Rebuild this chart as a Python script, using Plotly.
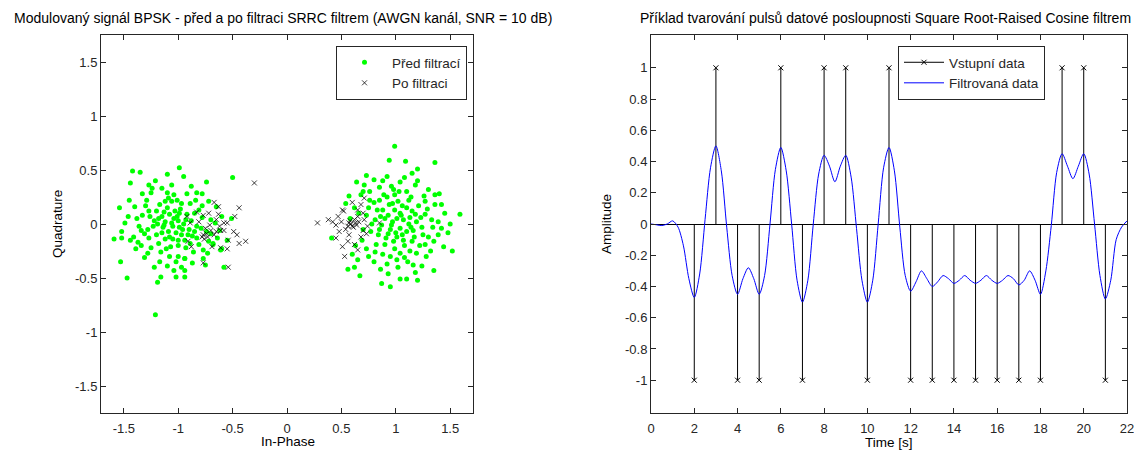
import plotly.graph_objects as go

# --- left chart: BPSK constellation (I, Q) ---
pred_left = [(-0.99,0.52),(-1.42,0.49),(-1.35,0.48),(-1.10,0.46),(-0.95,0.44),(-0.50,0.43),(-1.44,0.38),(-0.74,0.39),
    (-1.27,0.36),(-1.21,0.40),(-1.33,0.28),(-1.25,0.29),(-1.10,0.29),(-1.04,0.27),(-0.92,0.28),(-0.83,0.29),(-0.78,0.28),
    (-1.29,0.22),(-1.06,0.21),(-1.01,0.22),(-1.12,0.21),(-1.54,0.15),(-1.30,0.17),(-1.20,0.12),(-1.10,0.15),(-0.98,0.14),
    (-0.78,0.17),(-0.65,0.16),(-1.49,0.01),(-1.33,0.08),(-1.26,0.07),(-1.15,0.07),(-1.08,0.09),(-1.01,0.07),(-0.92,0.09),
    (-0.85,0.10),(-0.78,0.06),(-0.70,0.04),(-0.60,0.07),(-1.52,-0.07),(-1.59,-0.14),(-1.52,-0.13),(-1.41,-0.12),(-1.34,-0.06),
    (-1.28,-0.05),(-1.23,-0.02),(-1.19,0.00),(-1.14,-0.03),(-1.09,-0.07),(-1.06,0.01),(-1.02,-0.08),(-0.96,-0.05),(-0.91,-0.10),
    (-0.85,-0.07),(-0.79,-0.04),(-0.74,-0.07),(-0.62,-0.06),(-1.44,-0.15),(-1.39,-0.23),(-1.34,-0.20),(-1.25,-0.22),(-1.18,-0.18),
    (-1.11,-0.23),(-1.05,-0.14),(-1.00,-0.20),(-0.94,-0.15),(-0.83,-0.13),(-0.77,-0.24),(-0.68,-0.18),(-0.60,-0.23),(-1.53,-0.35),
    (-1.17,-0.35),(-1.08,-0.30),(-1.00,-0.30),(-0.94,-0.32),(-1.10,-0.39),(-0.97,-0.40),(-1.04,-0.43),(-1.16,-0.49),(-1.02,-0.49),
    (-0.94,-0.49),(-1.47,-0.50),(-1.19,-0.54),(-0.77,-0.32),(-0.75,-0.38),(-0.58,-0.40),(-1.21,-0.84),(-1.05,-0.02),(-1.00,0.03),
    (-0.97,-0.10),(-1.12,0.02),(-1.08,-0.12),(-0.95,0.00),(-0.90,-0.05),(-1.15,-0.08),(-1.00,-0.15),(-0.88,0.03),(-1.20,-0.10),
    (-0.83,-0.02),(-1.03,0.12),(-1.17,0.18),(-0.89,0.19),(-1.38,0.05),(-1.45,0.22),(-1.31,-0.31),(-1.22,-0.40),(-0.86,-0.26),
    (-0.70,-0.09),(-0.66,0.01),(-0.72,0.21),(-0.88,0.35),(-1.15,0.33),(-1.36,-0.02),(-0.93,-0.22),(-1.12,-0.14),(-0.81,-0.19),
    (-0.87,-0.36),(-0.55,-0.15),(-0.72,-0.16),(-0.68,-0.19),(-0.61,-0.24),(-0.94,-0.43),(-0.94,-0.32),(-0.51,0.05),(-1.06,0.36),
    (-1.40,0.16),(-1.27,-0.13),(-1.18,0.05),(-1.13,-0.01),(-1.04,0.05),(-0.99,-0.03),(-0.93,0.04),(-0.87,-0.11),(-1.22,0.03),
    (-1.27,0.12),(-1.31,-0.09),(-1.16,-0.26),(-1.07,-0.21),(-0.97,0.19),(-1.09,0.24),(-0.84,0.22),(-1.24,0.33),(-1.37,-0.17),
    (-1.46,0.07),(-1.02,-0.35),(-0.89,-0.18),(-0.81,0.13),(-1.13,0.11),(-0.99,0.10),(-1.28,-0.27),(-0.73,-0.27),(-0.64,-0.13)]

pred_right = [(0.99,0.72),(0.94,0.59),(1.09,0.58),(1.36,0.57),(1.20,0.51),(0.64,0.39),(0.80,0.41),(1.04,0.39),(1.08,0.43),
    (1.18,0.36),(0.71,0.36),(0.76,0.30),(0.85,0.34),(0.98,0.32),(1.36,0.27),(0.57,0.26),(0.68,0.27),(0.76,0.22),(0.85,0.22),
    (0.92,0.25),(0.99,0.27),(1.02,0.21),(1.14,0.25),(1.27,0.21),(1.36,0.18),(0.94,0.18),(0.88,0.13),(0.83,0.13),(0.99,0.13),
    (1.04,0.10),(1.10,0.15),(1.21,0.17),(1.27,0.09),(1.33,0.04),(1.59,0.09),(1.39,0.02),(0.73,0.08),(0.81,0.04),(0.93,0.08),
    (1.01,0.05),(1.07,0.04),(1.13,0.06),(1.19,0.02),(0.87,-0.01),(0.96,-0.01),(1.04,-0.04),(1.10,-0.07),(1.16,-0.06),(1.24,-0.03),
    (1.30,-0.12),(1.42,-0.04),(0.77,-0.07),(0.84,-0.10),(0.93,-0.09),(1.01,-0.12),(1.07,-0.15),(1.15,-0.16),(1.22,-0.20),
    (1.35,-0.16),(1.44,-0.21),(1.52,-0.25),(0.82,-0.19),(0.90,-0.19),(0.99,-0.23),(1.04,-0.27),(1.13,-0.25),(1.19,-0.27),
    (0.73,-0.23),(0.75,-0.30),(1.01,-0.33),(1.11,-0.35),(1.16,-0.38),(1.24,-0.39),(1.35,-0.43),(0.93,-0.46),(0.67,-0.48),
    (0.56,-0.42),(0.62,-0.40),(0.41,-0.13),(1.04,-0.51),(1.10,-0.51),(0.87,-0.55),(1.20,-0.52),(0.95,-0.58),(0.90,0.05),
    (0.97,0.02),(1.05,0.08),(0.85,-0.05),(0.95,-0.05),(1.00,-0.08),(1.12,0.00),(0.78,0.00),(0.70,-0.05),(0.66,0.10),(0.62,0.15),
    (0.69,-0.15),(0.60,-0.28),(0.80,-0.35),(0.88,-0.28),(1.28,-0.30),(1.30,0.32),(1.45,0.10),(1.48,-0.08),(1.20,0.40),(0.92,0.44),
    (0.73,0.45),(1.15,0.12),(1.25,-0.10),(1.08,-0.20),(0.96,0.35),(1.10,0.30),(0.80,0.20),(0.75,0.15),(1.40,0.28),(1.32,-0.25),
    (0.86,-0.42),(1.02,-0.40),(0.70,0.30),(0.58,0.05),(0.63,-0.20),(1.18,-0.45),(1.50,0.00),(0.54,0.19),(0.65,-0.33),
    (0.89,0.27),(0.97,0.19),(1.06,0.17),(1.12,0.22),(1.18,0.09),(1.23,0.06),(1.06,-0.10),(0.98,-0.16),(0.91,-0.13),(1.17,-0.12),
    (1.27,-0.19),(1.39,-0.10),(0.81,-0.26),(0.95,-0.30),(1.08,-0.31),(1.29,0.14),(1.42,0.18),(0.88,0.40),(1.15,0.47),(1.03,0.30),
    (0.86,0.07),(1.14,-0.03),(1.34,-0.03),(0.92,-0.37),(1.26,0.26)]

po_left = [(-0.30,0.38),(-0.67,0.20),(-0.44,0.15),(-0.92,0.07),(-0.77,0.08),(-0.63,0.09),(-0.65,0.04),(-0.48,0.07),
    (-0.55,0.01),(-0.89,0.01),(-0.81,0.02),(-0.71,-0.01),(-0.61,-0.06),(-0.58,-0.06),(-0.49,-0.07),(-0.46,-0.10),(-0.38,-0.16),
    (-0.44,-0.18),(-0.54,-0.15),(-0.65,-0.07),(-0.77,-0.10),(-0.78,-0.12),(-0.74,-0.09),(-0.88,-0.21),(-0.91,-0.16),(-0.69,-0.21),
    (-0.61,-0.22),(-0.55,-0.23),(-0.77,-0.36),(-0.54,-0.40),(-0.75,-0.04),(-0.58,0.01),(-0.83,0.11),(-0.72,0.10),(-0.63,0.16),
    (-0.76,-0.14),(-0.73,-0.12),(-0.70,-0.06),(-0.67,-0.10),(-0.62,-0.02)]

po_right = [(0.28,0.01),(0.38,0.04),(0.47,0.07),(0.60,0.20),(0.52,0.12),(0.45,-0.01),(0.48,-0.07),(0.45,-0.13),(0.51,-0.21),
    (0.56,-0.16),(0.57,-0.10),(0.65,-0.24),(0.68,-0.12),(0.73,-0.09),(0.74,-0.02),(0.71,0.04),(0.70,0.10),(0.65,0.13),(0.68,0.18),
    (0.62,0.04),(0.57,0.01),(0.59,0.00),(0.60,-0.02),(0.56,-0.02),(0.63,0.01),(0.54,-0.05),(0.85,0.01),(0.53,-0.30),(0.62,-0.19),
    (0.70,-0.06),(0.50,0.02),(0.42,0.02),(0.65,0.07),(0.71,0.24),(0.51,0.13),(0.61,-0.03),(0.64,-0.01),(0.58,0.03),(0.66,0.02)]

iq_ticks = [-1.5, -1, -0.5, 0, 0.5, 1, 1.5]
iq_labels = ['-1.5', '-1', '-0.5', '0', '0.5', '1', '1.5']

# --- right chart: input symbols and SRRC filtered signal ---
sym_t = [2, 3, 4, 5, 6, 7, 8, 9, 10, 11, 12, 13, 14, 15, 16, 17, 18, 19, 20, 21]
sym_val = [-1, 1, -1, -1, 1, -1, 1, 1, -1, 1, -1, -1, -1, -1, -1, -1, -1, 1, 1, -1]

filt_t = [i * 0.25 for i in range(89)]
filt_val = [0.0, -0.005, -0.01, 0.0, 0.02, -0.02, -0.14, -0.35, -0.47, -0.32, 0.03, 0.36,
    0.50, 0.34, -0.02, -0.33, -0.45, -0.35, -0.28, -0.35, -0.45, -0.33, 0.0, 0.35,
    0.49, 0.34, 0.0, -0.36, -0.50, -0.36, 0.0, 0.32, 0.44, 0.37, 0.27, 0.37,
    0.44, 0.30, -0.03, -0.36, -0.50, -0.36, 0.0, 0.36, 0.49, 0.34, -0.02, -0.33,
    -0.43, -0.37, -0.30, -0.35, -0.40, -0.37, -0.33, -0.35, -0.38, -0.36, -0.33, -0.36,
    -0.38, -0.36, -0.33, -0.36, -0.38, -0.36, -0.33, -0.35, -0.39, -0.36, -0.30, -0.36,
    -0.45, -0.30, -0.01, 0.33, 0.45, 0.37, 0.29, 0.37, 0.45, 0.32, 0.0, -0.33,
    -0.48, -0.36, -0.10, -0.02, 0.02]

amp_ticks = [-1, -0.8, -0.6, -0.4, -0.2, 0, 0.2, 0.4, 0.6, 0.8, 1]
amp_labels = ['-1', '-0.8', '-0.6', '-0.4', '-0.2', '0', '0.2', '0.4', '0.6', '0.8', '1']
time_ticks = list(range(0, 23, 2))

FONT = 'Liberation Sans, Arial, sans-serif'
AX = '#262626'
W, H = 1134, 450
TXT = 13.5

fig = go.Figure()

green = pred_left + pred_right
black = po_left + po_right
fig.add_trace(go.Scatter(x=[p[0] for p in green], y=[p[1] for p in green], mode='markers',
                         name='Před filtrací', marker=dict(color='#00ff00', size=5, symbol='circle'),
                         xaxis='x', yaxis='y', legend='legend'))
fig.add_trace(go.Scatter(x=[p[0] for p in black], y=[p[1] for p in black], mode='markers',
                         name='Po filtraci',
                         marker=dict(color='rgba(0,0,0,0.8)', size=5, symbol='x-thin', line=dict(width=1, color='rgba(0,0,0,0.75)')),
                         xaxis='x', yaxis='y', legend='legend'))

# stems
sx, sy = [], []
for t, v in zip(sym_t, sym_val):
    sx += [t, t, None]
    sy += [0, v, None]
fig.add_trace(go.Scatter(x=sx, y=sy, mode='lines', line=dict(color='black', width=1),
                         showlegend=False, xaxis='x2', yaxis='y2', hoverinfo='skip'))
tx, ty = [], []
for t, v in zip(sym_t, sym_val):
    tx += [t, None]
    ty += [v, None]
fig.add_trace(go.Scatter(x=tx, y=ty, mode='lines+markers', name='Vstupní data',
                         line=dict(color='black', width=1),
                         marker=dict(symbol='x-thin', size=5, color='black', line=dict(width=1, color='black')),
                         connectgaps=False, xaxis='x2', yaxis='y2', legend='legend2'))
fig.add_trace(go.Scatter(x=filt_t, y=filt_val, mode='lines', name='Filtrovaná data',
                         line=dict(color='#0000ff', width=1, shape='spline', smoothing=0.8),
                         xaxis='x2', yaxis='y2', legend='legend2'))

axis_common = dict(showline=True, linecolor=AX, linewidth=1, mirror='ticks', ticks='inside', ticklen=5,
                   tickcolor=AX, showgrid=False, zeroline=False, automargin=False,
                   ticklabeloverflow='allow',
                   tickfont=dict(family=FONT, size=13, color='#262626'))

def label(text, x, y, angle=0, size=TXT):
    return dict(text=text, x=x / W, y=1 - y / H, xref='paper', yref='paper', xanchor='center', yanchor='middle',
                textangle=angle, showarrow=False, font=dict(family=FONT, size=size, color='black'))

fig.update_layout(
    width=W, height=H,
    paper_bgcolor='white', plot_bgcolor='white',
    margin=dict(l=0, r=0, t=0, b=0),
    font=dict(family=FONT, size=TXT, color='#262626'),
    xaxis=dict(domain=[101 / W, 473 / W], range=[-1.71, 1.71], tickvals=iq_ticks, ticktext=iq_labels,
               ticklabelstandoff=3, anchor='y', **axis_common),
    yaxis=dict(domain=[1 - 413 / H, 1 - 35 / H], range=[-1.75, 1.75], tickvals=iq_ticks, ticktext=iq_labels,
               anchor='x', **axis_common),
    xaxis2=dict(domain=[651 / W, 1127 / W], range=[0, 22], tickvals=time_ticks,
                ticklabelstandoff=3, anchor='y2', **axis_common),
    yaxis2=dict(domain=[1 - 413 / H, 1 - 35 / H], range=[-1.21, 1.21], tickvals=amp_ticks, ticktext=amp_labels,
                anchor='x2', **axis_common),
    legend=dict(x=467 / W, y=1 - 46 / H, xanchor='right', yanchor='top', bgcolor='white',
                bordercolor=AX, borderwidth=1, font=dict(family=FONT, size=TXT), tracegroupgap=0, itemwidth=45),
    legend2=dict(x=898 / W, y=1 - 46 / H, xanchor='left', yanchor='top', bgcolor='white',
                 bordercolor=AX, borderwidth=1, font=dict(family=FONT, size=TXT), tracegroupgap=0, itemwidth=40),
    annotations=[
        label('Modulovaný signál BPSK - před a po filtraci SRRC filtrem (AWGN kanál, SNR = 10 dB)', 283, 18, size=14),
        label('Příklad tvarování pulsů datové posloupnosti Square Root-Raised Cosine filtrem', 885, 18, size=14),
        label('In-Phase', 288, 441),
        label('Quadrature', 57, 224, angle=-90),
        label('Time [s]', 889, 442),
        label('Amplitude', 606, 224, angle=-90),
    ],
)
fig.update_yaxes(selector=dict(anchor='x2'), zeroline=True, zerolinecolor='black', zerolinewidth=1)

fig.write_html("out.html", config={'displayModeBar': False}, post_script="document.body.style.margin='0';")
